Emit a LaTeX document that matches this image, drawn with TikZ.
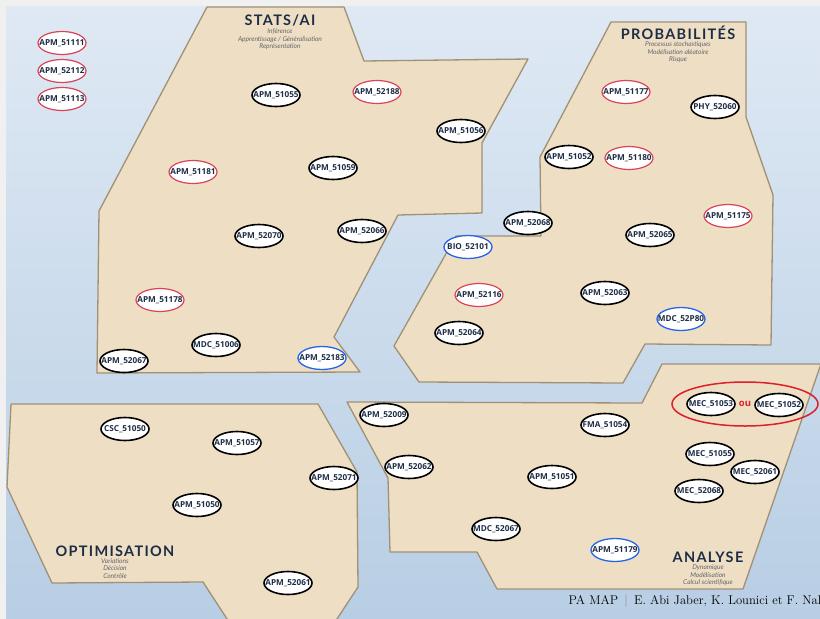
\documentclass[tikz,border=0pt]{standalone}
\usepackage{fontspec}
\setsansfont{Lato}
\newfontfamily\titrefont[LetterSpace=9]{Lato}
\newfontfamily\coursfont{Open Sans}
\usetikzlibrary{shapes.geometric}

\definecolor{fondhaut}{RGB}{223,233,244}
\definecolor{fondbas}{RGB}{184,206,228}
\definecolor{sable}{RGB}{238,223,196}
\definecolor{bord}{RGB}{160,145,118}
\definecolor{encre}{RGB}{30,45,70}
\definecolor{rougeC}{RGB}{217,68,90}
\definecolor{rougeV}{RGB}{222,32,40}
\definecolor{bleuC}{RGB}{40,100,232}
\definecolor{grisT}{RGB}{100,100,108}

\tikzset{
  zone/.style={fill=sable, draw=bord, line width=1.3pt, line join=round},
  cours/.style={ellipse, draw=black, line width=1.6pt, fill=white,
    inner xsep=-7pt, inner ysep=4.5pt, minimum width=48pt, minimum height=23pt,
    text=encre, font=\coursfont\bfseries\fontsize{8.2}{9}\selectfont},
  coursR/.style={cours, draw=rougeC, line width=1.2pt},
  coursB/.style={cours, draw=bleuC, line width=1.3pt},
  titre/.style={text=encre, font=\titrefont\bfseries\fontsize{14.5}{15}\selectfont},
  sous/.style={text=grisT, align=center, inner sep=0pt,
    font=\sffamily\itshape\fontsize{6.6}{7.6}\selectfont}
}

\begin{document}
\begin{tikzpicture}[x=1pt,y=-1pt]
\useasboundingbox (0,0) rectangle (820,619);
%\draw[step=20pt,gray,very thin] (0,0) grid (820,619); %background grid
\fill[gray!12] (0,0) rectangle (820,619);
\shade[top color=fondhaut, bottom color=fondbas] (6,6) rectangle (820,619);

% zones
\draw[zone] (207,7) -- (344,7) -- (364,61) -- (528,59) -- (482,143) -- (482,213) -- (398,215) -- (334,337) -- (360,372) -- (97,373) -- (99,211) -- cycle;
\draw[zone] (611,22) -- (746,22) -- (746,117) -- (773,195) -- (771,345) -- (645,344) -- (623,383) -- (419,382) -- (394,346) -- (456,236) -- (541,236) -- (540,157) -- cycle;
\draw[zone] (11,404) -- (318,404) -- (357,472) -- (358,587) -- (333,625) -- (231,625) -- (203,582) -- (52,583) -- (7,487) -- cycle;
\draw[zone] (347,402) -- (642,403) -- (662,364) -- (821,364) -- (743,589) -- (497,589) -- (477,552) -- (390,552) -- (388,478) -- cycle;

% titres
\node[titre] (stats) at (280,20) {STATS/AI};
\node[sous] (statsS) at (280,39.5) {Inférence\\Apprentissage / Généralisation\\Représentation};
\node[titre] (proba) at (678,33) {PROBABILITÉS};
\node[sous] (probaS) at (678,52.5) {Processus stochastiques\\Modélisation aléatoire\\Risque};
\node[titre] (optim) at (115,551) {OPTIMISATION};
\node[sous] (optimS) at (115,568.5) {Variations\\Décision\\Contrôle};
\node[titre] (analyse) at (708,557) {ANALYSE};
\node[sous] (analyseS) at (708,575.5) {Dynamique\\Modélisation\\Calcul scientifique};

% hors zone
\node[coursR] (a51111) at (62,43) {APM\_51111};
\node[coursR] (a52112) at (62,71) {APM\_52112};
\node[coursR] (a51113) at (62,99) {APM\_51113};

% stats/ai
\node[cours] (a51055) at (276,95) {APM\_51055};
\node[coursR] (a52188) at (377,92) {APM\_52188};
\node[cours] (a51056) at (461,131) {APM\_51056};
\node[coursR] (a51181) at (193,172) {APM\_51181};
\node[cours] (a51059) at (333,168) {APM\_51059};
\node[cours] (a52070) at (259,236) {APM\_52070};
\node[cours] (a52066) at (362,231) {APM\_52066};
\node[coursR] (a51178) at (160,300) {APM\_51178};
\node[cours] (m51006) at (216,345) {MDC\_51006};
\node[cours] (a52067) at (124,361) {APM\_52067};
\node[coursB] (a52183) at (322,358) {APM\_52183};

% probabilites
\node[coursR] (a51177) at (626,92) {APM\_51177};
\node[cours] (p52060) at (715,107) {PHY\_52060};
\node[cours] (a51052) at (569,157) {APM\_51052};
\node[coursR] (a51180) at (629,158) {APM\_51180};
\node[cours] (a52068) at (528,223) {APM\_52068};
\node[coursB] (b52101) at (468,247) {BIO\_52101};
\node[coursR] (a51175) at (728,216) {APM\_51175};
\node[cours] (a52065) at (650,235) {APM\_52065};
\node[coursR] (a52116) at (479,295) {APM\_52116};
\node[cours] (a52063) at (605,293) {APM\_52063};
\node[coursB] (m52P80) at (681,319) {MDC\_52P80};
\node[cours] (a52064) at (459,333) {APM\_52064};

% optimisation
\node[cours] (c51050) at (125,429) {CSC\_51050};
\node[cours] (a51057) at (237,443) {APM\_51057};
\node[cours] (a52071) at (334,478) {APM\_52071};
\node[cours] (a51050) at (197,505) {APM\_51050};
\node[cours] (a52061) at (288,583) {APM\_52061};

% analyse
\node[cours] (a52009) at (384,415) {APM\_52009};
\node[cours] (f51054) at (605,425) {FMA\_51054};
\node[cours] (e51053) at (711,404) {MEC\_51053};
\node[cours] (e51052) at (779,405) {MEC\_51052};
\node[text=rougeV, font=\coursfont\bfseries\fontsize{9.5}{9.5}\selectfont] (ou) at (745,404) {ou};
\draw[rougeV, line width=1.5pt] (ou) ellipse (73pt and 22pt);
\node[cours] (e51055) at (710,454) {MEC\_51055};
\node[cours] (e52061) at (755,472) {MEC\_52061};
\node[cours] (a52062) at (409,467) {APM\_52062};
\node[cours] (a51051) at (552,477) {APM\_51051};
\node[cours] (e52068) at (699,491) {MEC\_52068};
\node[cours] (m52067) at (496,529) {MDC\_52067};
\node[coursB] (a51179) at (615,550) {APM\_51179};

% pied de page
\node[anchor=west, text=black, font=\fontsize{12.6}{13}\selectfont] (pied) at (565,601) {PA MAP {\color{gray}\,|\,} E. Abi Jaber, K. Lounici et F. Nal};
\end{tikzpicture}
\end{document}
